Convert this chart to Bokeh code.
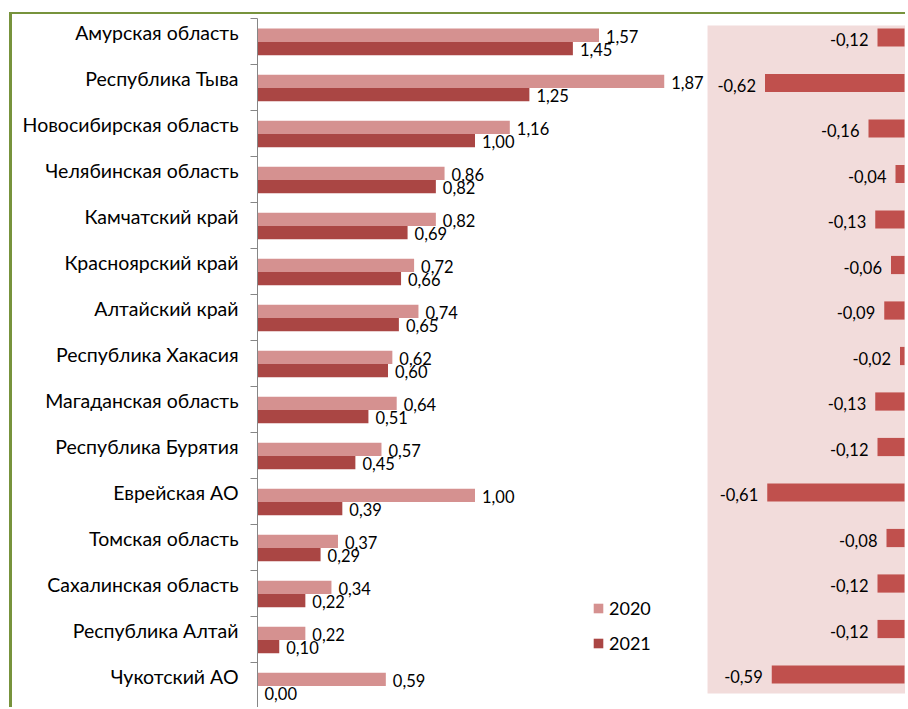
from bokeh.plotting import figure
from bokeh.models import Range1d, FixedTicker, BoxAnnotation, ColumnDataSource, Legend, LegendItem
from bokeh.core.properties import value
from bokeh.embed import file_html
from bokeh.resources import INLINE

categories = ["Амурская область", "Республика Тыва", "Новосибирская область",
              "Челябинская область", "Камчатский край", "Красноярский край",
              "Алтайский край", "Республика Хакасия", "Магаданская область",
              "Республика Бурятия", "Еврейская АО", "Томская область",
              "Сахалинская область", "Республика Алтай", "Чукотский АО"]
v2020 = [1.57, 1.87, 1.16, 0.86, 0.82, 0.72, 0.74, 0.62, 0.64, 0.57, 1.00, 0.37, 0.34, 0.22, 0.59]
v2021 = [1.45, 1.25, 1.00, 0.82, 0.69, 0.66, 0.65, 0.60, 0.51, 0.45, 0.39, 0.29, 0.22, 0.10, 0.00]
diff = [-0.12, -0.62, -0.16, -0.04, -0.13, -0.06, -0.09, -0.02, -0.13, -0.12, -0.61, -0.08, -0.12, -0.12, -0.59]
years = ["2020", "2021"]

C20 = "#D59190"
C21 = "#AA4644"
CD = "#C0504D"
FONT = "Lato"


def fmt(v):
    return f"{v:.2f}".replace(".", ",")


n = len(categories)
idx = list(range(n))

p = figure(width=896, height=695, output_backend="svg", toolbar_location=None,
           x_range=Range1d(0, 2.993), y_range=Range1d(15.02, 0),
           x_axis_location=None, min_border_left=245, min_border_right=0,
           min_border_top=4, min_border_bottom=0)
p.extra_x_ranges = {"diff": Range1d(-2.8756, 0.01778)}
p.extra_y_ranges = {"diff": Range1d(15.269, 0.0824)}
p.xgrid.visible = False
p.ygrid.visible = False
p.outline_line_color = None
p.background_fill_color = "white"
p.border_fill_color = "white"
p.styles = {"margin-left": "9px", "margin-top": "12px",
            "border-left": "3px solid #77933C", "border-top": "2px solid #77933C"}

# pink panel behind the change bars
p.add_layout(BoxAnnotation(left=2.069, right=2.984, top=0.152, bottom=14.674,
                           fill_color="#F2DCDB", fill_alpha=1.0,
                           line_color=None, level="underlay"))

src = ColumnDataSource(dict(
    y20=[i + 0.365 for i in idx], y21=[i + 0.655 for i in idx],
    v20=v2020, v21=v2021,
    l20=[fmt(v) for v in v2020], l21=[fmt(v) for v in v2021],
))
r20 = p.hbar(y="y20", left=0, right="v20", height=0.29, fill_color=C20,
             line_color=None, source=src)
r21 = p.hbar(y="y21", left=0, right="v21", height=0.29, fill_color=C21,
             line_color=None, source=src)
for xc, yc, tc in (("v20", "y20", "l20"), ("v21", "y21", "l21")):
    p.text(x=xc, y=yc, text=tc, x_offset=7, y_offset=1, text_align="left",
           text_baseline="middle", text_font=value(FONT),
           text_font_size=value("16.5px"), text_color="#000000", source=src)

dsrc = ColumnDataSource(dict(yd=[i + 0.5 for i in idx], d=diff,
                             ld=[fmt(v) for v in diff]))
p.hbar(y="yd", left=0, right="d", height=0.40, fill_color=CD, line_color=None,
       x_range_name="diff", y_range_name="diff", source=dsrc)
p.text(x="d", y="yd", text="ld", x_offset=-9, y_offset=2, text_align="right",
       text_baseline="middle", text_font=value(FONT),
       text_font_size=value("16.5px"), text_color="#000000",
       x_range_name="diff", y_range_name="diff", source=dsrc)

# category axis: labels at band upper-middle, tick marks at band boundaries
yaxis = p.yaxis[0]
yaxis.ticker = FixedTicker(ticks=[i + 0.3125 for i in idx],
                           minor_ticks=list(range(n + 1)))
yaxis.major_label_overrides = {i + 0.3125: c for i, c in zip(idx, categories)}
yaxis.major_tick_line_color = None
yaxis.major_tick_out = 0
yaxis.major_tick_in = 0
yaxis.minor_tick_out = 7
yaxis.minor_tick_in = 0
yaxis.minor_tick_line_color = "#868686"
yaxis.axis_line_color = "#868686"
yaxis.major_label_standoff = 12
yaxis.major_label_text_font = FONT
yaxis.major_label_text_font_size = "19.5px"
yaxis.major_label_text_color = "#000000"

legend = Legend(items=[LegendItem(label=years[0], renderers=[r20]),
                       LegendItem(label=years[1], renderers=[r21])],
                location=(335, 55), padding=0, margin=0, spacing=13,
                glyph_width=12, glyph_height=12, label_height=12,
                label_standoff=5, border_line_color=None,
                background_fill_alpha=0, label_text_font=FONT,
                label_text_font_size="18px", label_text_color="#000000")
p.add_layout(legend)

open("out.html", "w").write(file_html(p, INLINE))
